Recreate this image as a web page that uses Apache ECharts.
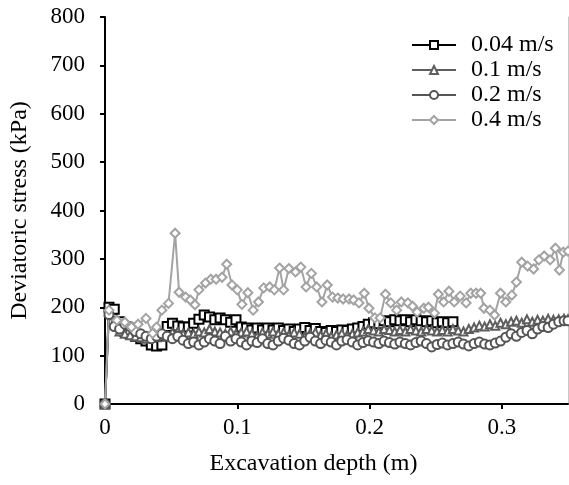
<!DOCTYPE html>
<html>
<head>
<meta charset="utf-8">
<script src="https://cdn.jsdelivr.net/npm/echarts@6/dist/echarts.min.js"></script>
<style>
  html, body { margin: 0; padding: 0; background: #fff; }
  #chart { width: 569px; height: 485px; }
</style>
</head>
<body>
<div id="chart"></div>
<script>
// shared depth grid (m) for the 0.04, 0.1 and 0.2 m/s tests
const depth = [0, 0.003, 0.007, 0.011, 0.015, 0.019, 0.023, 0.027, 0.031, 0.035, 0.039, 0.043, 0.047, 0.051, 0.055, 0.059, 0.063, 0.067, 0.071, 0.075, 0.079, 0.083, 0.087, 0.091, 0.095, 0.099, 0.103, 0.107, 0.111, 0.115, 0.119, 0.123, 0.127, 0.131, 0.135, 0.139, 0.143, 0.147, 0.151, 0.155, 0.159, 0.163, 0.167, 0.171, 0.175, 0.179, 0.183, 0.187, 0.191, 0.195, 0.199, 0.203, 0.207, 0.211, 0.215, 0.219, 0.223, 0.227, 0.231, 0.235, 0.239, 0.243, 0.247, 0.251, 0.255, 0.259, 0.263, 0.267, 0.271, 0.275, 0.279, 0.283, 0.287, 0.291, 0.295, 0.299, 0.303, 0.307, 0.311, 0.315, 0.319, 0.323, 0.327, 0.331, 0.335, 0.339, 0.343, 0.347, 0.35];

// deviatoric stress (kPa)
const stress004 = [0, 200, 196, 170, 150, 145, 140, 135, 130, 122, 120, 122, 160, 167, 161, 159, 159, 167, 175, 184, 180, 174, 178, 174, 169, 174, 159, 157, 153, 157, 153, 157, 153, 157, 152, 155, 150, 155, 158, 152, 156, 150, 148, 152, 150, 153, 152, 155, 157, 160, 165, 168, 166, 172, 170, 174, 172, 174, 170, 174, 172, 170, 172, 168, 170, 168, 170];
const stress01 = [0, 190, 170, 150, 145, 142, 140, 138, 135, 140, 138, 145, 140, 148, 150, 145, 148, 145, 150, 148, 155, 150, 148, 145, 150, 145, 148, 150, 145, 140, 148, 145, 150, 145, 148, 142, 148, 145, 140, 146, 148, 142, 145, 140, 143, 146, 142, 145, 148, 150, 155, 152, 150, 155, 153, 150, 153, 150, 155, 152, 150, 155, 152, 150, 153, 150, 155, 152, 150, 155, 158, 162, 160, 165, 162, 168, 165, 170, 172, 168, 175, 170, 174, 172, 176, 174, 175, 176, 175];
const stress02 = [0, 185, 160, 155, 165, 160, 150, 145, 140, 135, 140, 145, 140, 135, 140, 132, 125, 128, 122, 128, 135, 130, 125, 140, 130, 135, 128, 122, 130, 127, 135, 125, 122, 130, 136, 132, 125, 122, 130, 138, 130, 125, 132, 128, 122, 130, 133, 128, 122, 127, 131, 128, 125, 130, 127, 124, 128, 125, 122, 127, 130, 125, 118, 123, 126, 122, 125, 128, 124, 120, 125, 128, 124, 122, 126, 130, 138, 145, 140, 148, 152, 145, 155, 160, 158, 165, 170, 172, 172];

// 0.4 m/s test has its own depth readings
const depth04 = [0, 0.003, 0.009, 0.015, 0.02, 0.025, 0.031, 0.036, 0.039, 0.043, 0.048, 0.053, 0.056, 0.061, 0.0645, 0.068, 0.071, 0.076, 0.080, 0.084, 0.0885, 0.092, 0.096, 0.100, 0.1035, 0.108, 0.112, 0.116, 0.120, 0.1245, 0.128, 0.132, 0.135, 0.139, 0.144, 0.148, 0.152, 0.156, 0.160, 0.164, 0.168, 0.172, 0.176, 0.180, 0.1845, 0.188, 0.192, 0.196, 0.1995, 0.204, 0.208, 0.212, 0.216, 0.2205, 0.224, 0.229, 0.2325, 0.236, 0.241, 0.2445, 0.249, 0.252, 0.256, 0.260, 0.264, 0.2685, 0.273, 0.2765, 0.2805, 0.284, 0.2865, 0.291, 0.2945, 0.299, 0.303, 0.3075, 0.311, 0.315, 0.3195, 0.324, 0.328, 0.332, 0.3365, 0.3405, 0.3435, 0.3465, 0.35];
const stress04 = [0, 194, 173, 169, 159, 165, 177, 146, 159, 194, 208, 353, 231, 221, 215, 205, 236, 250, 258, 258, 262, 289, 246, 236, 206, 230, 194, 211, 240, 242, 236, 281, 236, 280, 273, 283, 242, 270, 242, 211, 246, 221, 219, 217, 217, 215, 209, 229, 198, 178, 178, 227, 209, 194, 211, 209, 202, 190, 198, 200, 188, 227, 211, 233, 211, 223, 209, 229, 229, 229, 198, 194, 184, 229, 211, 225, 252, 293, 285, 279, 298, 306, 298, 322, 277, 314, 316];

const seriesNames = ['0.04 m/s', '0.1 m/s', '0.2 m/s', '0.4 m/s'];
const xTicks = [0, 0.1, 0.2, 0.3];

const font = "'Liberation Serif', 'Times New Roman', serif";

function pairs(xs, ys) {
  return ys.map((y, i) => [xs[i], y]);
}

function mkSeries(name, data, symbol, size, color) {
  return {
    name: name,
    type: 'line',
    data: data,
    symbol: symbol,
    symbolSize: size,
    lineStyle: { color: color, width: 2 },
    itemStyle: { color: '#fff', borderColor: color, borderWidth: 2 },
    emphasis: { disabled: true }
  };
}

const chart = echarts.init(document.getElementById('chart'));

const option = {
  animation: false,
  textStyle: { fontFamily: font },
  grid: { left: 104, right: 1, top: 17, bottom: 81 },
  legend: {
    orient: 'vertical',
    left: 406,
    top: 28,
    itemWidth: 44,
    itemHeight: 10,
    itemGap: 1,
    textStyle: { fontFamily: font, fontSize: 24, color: '#000', lineHeight: 24, padding: [0, 0, 0, 10] },
    data: seriesNames
  },
  xAxis: {
    type: 'value',
    min: 0,
    max: 0.35,
    interval: 0.1,
    name: 'Excavation depth (m)',
    nameLocation: 'middle',
    nameGap: 48,
    nameTextStyle: { fontFamily: font, fontSize: 24, color: '#000', padding: [0, 46, 0, 0] },
    axisLine: { lineStyle: { color: '#000', width: 2 } },
    axisTick: { show: true, inside: false, length: 5, lineStyle: { color: '#000', width: 2 } },
    axisLabel: {
      fontFamily: font, fontSize: 23, color: '#000', margin: 12,
      showMaxLabel: false,
      formatter: v => (xTicks.some(t => Math.abs(t - v) < 1e-9) ? String(+v.toFixed(2)) : '')
    },
    splitLine: { show: false }
  },
  yAxis: [{
    type: 'value',
    min: 0,
    max: 800,
    interval: 100,
    name: 'Deviatoric stress (kPa)',
    nameLocation: 'middle',
    nameGap: 73,
    nameTextStyle: { fontFamily: font, fontSize: 24, color: '#000' },
    axisLine: { show: true, lineStyle: { color: '#000', width: 2 } },
    axisTick: { show: true, inside: false, length: 5, lineStyle: { color: '#000', width: 2 } },
    axisLabel: { fontFamily: font, fontSize: 23, color: '#000', margin: 20 },
    splitLine: { show: false }
  }, {
    type: 'value',
    position: 'right',
    min: 0,
    max: 800,
    axisLine: { show: true, lineStyle: { color: '#c8c8c8', width: 1 } },
    axisTick: { show: false },
    axisLabel: { show: false },
    splitLine: { show: false }
  }],
  series: [
    mkSeries(seriesNames[0], pairs(depth, stress004), 'rect', 9, '#000000'),
    mkSeries(seriesNames[1], pairs(depth, stress01), 'triangle', 8, '#5e5e5e'),
    mkSeries(seriesNames[2], pairs(depth, stress02), 'circle', 9, '#555555'),
    mkSeries(seriesNames[3], pairs(depth04, stress04), 'diamond', 9, '#a3a3a3')
  ]
};

chart.setOption(option);
</script>
</body>
</html>
